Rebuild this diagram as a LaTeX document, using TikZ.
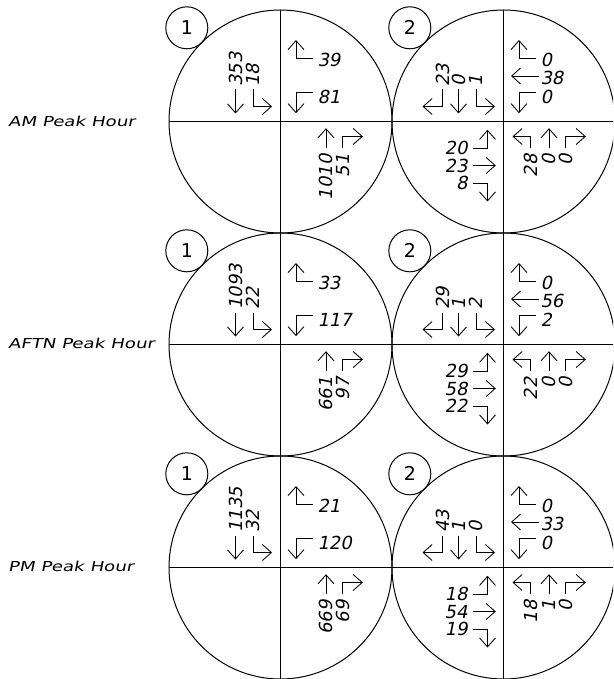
\documentclass[tikz,border=0pt]{standalone}
\usepackage{fontspec}
\usetikzlibrary{arrows.meta}
\newfontfamily\numfont[FakeSlant=0.2]{DejaVu Sans}
\newfontfamily\lblfont[FakeSlant=0.2,FakeStretch=1.33]{DejaVu Sans}
\newfontfamily\idfont{DejaVu Sans}

\tikzset{
  big/.style={circle, draw, line width=1pt, minimum size=223pt, inner sep=0pt, outer sep=0pt},
  idc/.style={circle, draw, line width=1pt, minimum size=42pt, inner sep=0pt, outer sep=0pt, font={\idfont\fontsize{19}{19}\selectfont}},
  axis/.style={line width=1pt},
  mv/.style={line width=0.85pt, -{Straight Barb[length=9pt,width=16pt]}},
  num/.style={font={\numfont\fontsize{18}{18}\selectfont}, inner sep=0pt, outer sep=0pt},
  vnum/.style={num, rotate=90},
  rowlbl/.style={font={\lblfont\fontsize{13.7}{14}\selectfont}, inner sep=0pt, anchor=west},
}

% southbound (top-left)
\newcommand\mSBL[2]{\draw[mv] (-61,-32) -- (-61,-15) -- (-81,-15); \node[vnum,anchor=west] (#1sbl) at (-61,-35) {#2};}
\newcommand\mSBT[2]{\draw[mv] (-45,-32) -- (-45,-8); \node[vnum,anchor=west] (#1sbt) at (-45,-35) {#2};}
\newcommand\mSBR[2]{\draw[mv] (-27.5,-32) -- (-27.5,-15) -- (-8.5,-15); \node[vnum,anchor=west] (#1sbr) at (-27.5,-35) {#2};}
% westbound (top-right)
\newcommand\mWBL[2]{\draw[mv] (32,-63) -- (15.5,-63) -- (15.5,-81.5); \node[num,anchor=west] (#1wbl) at (37,-61.5) {#2};}
\newcommand\mWBT[2]{\draw[mv] (35,-45.5) -- (7.5,-45.5); \node[num,anchor=west] (#1wbt) at (37,-43.5) {#2};}
\newcommand\mWBR[2]{\draw[mv] (32,-29) -- (15.5,-29) -- (15.5,-8.3); \node[num,anchor=west] (#1wbr) at (37,-25) {#2};}
% eastbound (bottom-left)
\newcommand\mEBL[2]{\draw[mv] (-31,26.7) -- (-16,26.7) -- (-16,8.3); \node[num,anchor=east] (#1ebl) at (-36,26.7) {#2};}
\newcommand\mEBT[2]{\draw[mv] (-31,44) -- (-7.7,44); \node[num,anchor=east] (#1ebt) at (-36,44.3) {#2};}
\newcommand\mEBR[2]{\draw[mv] (-31,61.7) -- (-16,61.7) -- (-16,80); \node[num,anchor=east] (#1ebr) at (-36,61.7) {#2};}
% northbound (bottom-right)
\newcommand\mNBL[2]{\draw[mv] (27.3,26.7) -- (27.3,15) -- (9,15); \node[vnum,anchor=east] (#1nbl) at (27.3,33) {#2};}
\newcommand\mNBT[2]{\draw[mv] (45.5,26.7) -- (45.5,6.7); \node[vnum,anchor=east] (#1nbt) at (45.5,33) {#2};}
\newcommand\mNBR[2]{\draw[mv] (62.3,26.7) -- (62.3,15) -- (82.3,15); \node[vnum,anchor=east] (#1nbr) at (62.3,33) {#2};}

\newcommand\Junc[4]{%
  \node[big] (#1) at (#2,#3) {};
  \draw[axis] (#1.north) -- (#1.south);
  \draw[axis] (#1.west) -- (#1.east);
  \node[idc, anchor=south east] (#1id) at (#1.north west) {#4};
}

\begin{document}
\begin{tikzpicture}[x=1pt,y=-1pt]
\useasboundingbox (0,0) rectangle (613,679);
\clip (0,0) rectangle (613,679);

% ---------- AM ----------
\node[rowlbl] (lamp) at (8,121.5) {AM Peak Hour};
\Junc{a1}{280.5}{121.5}{1}
\Junc{a2}{503.5}{121.5}{2}
\begin{scope}[shift={(a1.center)}]
  \mSBT{a1}{353}\mSBR{a1}{18}
  \mWBL{a1}{39}\mWBR{a1}{81}
  \mNBT{a1}{1010}\mNBR{a1}{51}
\end{scope}
\begin{scope}[shift={(a2.center)}]
  \mSBL{a2}{23}\mSBT{a2}{0}\mSBR{a2}{1}
  \mWBL{a2}{0}\mWBT{a2}{38}\mWBR{a2}{0}
  \mEBL{a2}{20}\mEBT{a2}{23}\mEBR{a2}{8}
  \mNBL{a2}{28}\mNBT{a2}{0}\mNBR{a2}{0}
\end{scope}

% ---------- AFTN ----------
\node[rowlbl] (laft) at (8,343.5) {AFTN Peak Hour};
\Junc{f1}{280.5}{344.5}{1}
\Junc{f2}{503.5}{344.5}{2}
\begin{scope}[shift={(f1.center)}]
  \mSBT{f1}{1093}\mSBR{f1}{22}
  \mWBL{f1}{33}\mWBR{f1}{117}
  \mNBT{f1}{661}\mNBR{f1}{97}
\end{scope}
\begin{scope}[shift={(f2.center)}]
  \mSBL{f2}{29}\mSBT{f2}{1}\mSBR{f2}{2}
  \mWBL{f2}{0}\mWBT{f2}{56}\mWBR{f2}{2}
  \mEBL{f2}{29}\mEBT{f2}{58}\mEBR{f2}{22}
  \mNBL{f2}{22}\mNBT{f2}{0}\mNBR{f2}{0}
\end{scope}

% ---------- PM ----------
\node[rowlbl] (lpm) at (8,566.5) {PM Peak Hour};
\Junc{p1}{280.5}{567.5}{1}
\Junc{p2}{503.5}{567.5}{2}
\begin{scope}[shift={(p1.center)}]
  \mSBT{p1}{1135}\mSBR{p1}{32}
  \mWBL{p1}{21}\mWBR{p1}{120}
  \mNBT{p1}{669}\mNBR{p1}{69}
\end{scope}
\begin{scope}[shift={(p2.center)}]
  \mSBL{p2}{43}\mSBT{p2}{1}\mSBR{p2}{0}
  \mWBL{p2}{0}\mWBT{p2}{33}\mWBR{p2}{0}
  \mEBL{p2}{18}\mEBT{p2}{54}\mEBR{p2}{19}
  \mNBL{p2}{18}\mNBT{p2}{1}\mNBR{p2}{0}
\end{scope}
\end{tikzpicture}
\end{document}
